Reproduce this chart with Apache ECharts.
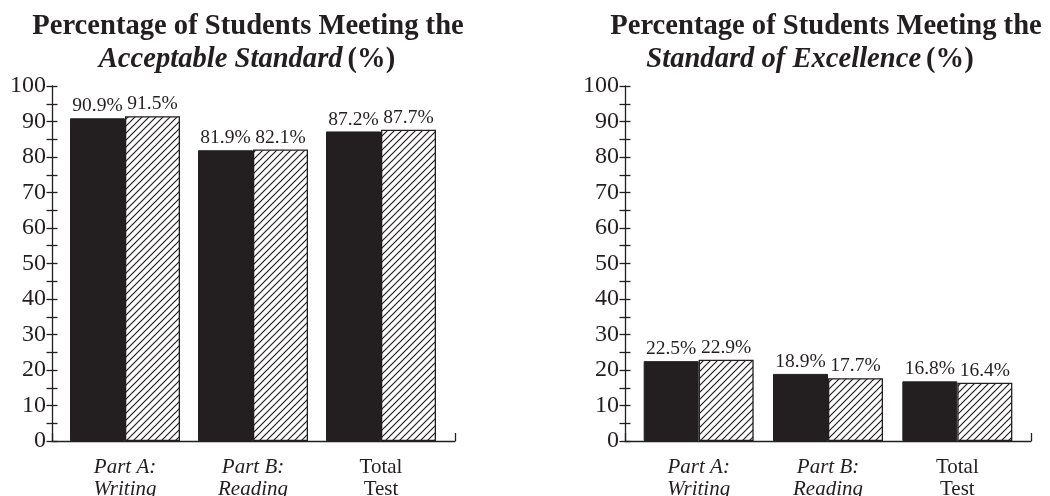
<!DOCTYPE html>
<html>
<head>
<meta charset="utf-8">
<script src="https://cdn.jsdelivr.net/npm/echarts@6/dist/echarts.min.js"></script>
<style>
  html, body { margin: 0; padding: 0; background: #ffffff; }
  #chart { width: 1050px; height: 496px; }
</style>
</head>
<body>
<div id="chart"></div>
<script>
// Categories shown under each panel
const categories = ['Part A:\nWriting', 'Part B:\nReading', 'Total\nTest'];
const italicCategories = [true, true, false];

// Acceptable Standard (%) — solid and hatched series
const acceptableSolid = [90.9, 81.9, 87.2];
const acceptableHatched = [91.5, 82.1, 87.7];

// Standard of Excellence (%) — solid and hatched series
const excellenceSolid = [22.5, 18.9, 16.8];
const excellenceHatched = [22.9, 17.7, 16.4];

// Value axis ticks
const yMin = 0;
const yMax = 100;
const yLabelStep = 10;
const yTickStep = 5;

const INK = '#231f20';
const SERIF = '"Liberation Serif", "Times New Roman", serif';

// Diagonal hatch tile
function makeHatch() {
  const s = 7;
  const c = document.createElement('canvas');
  c.width = s; c.height = s;
  const g = c.getContext('2d');
  g.fillStyle = '#ffffff';
  g.fillRect(0, 0, s, s);
  g.strokeStyle = INK;
  g.lineWidth = 1.2;
  g.beginPath();
  g.moveTo(-1, s + 1); g.lineTo(s + 1, -1);
  g.moveTo(-1, 1); g.lineTo(1, -1);
  g.moveTo(s - 1, s + 1); g.lineTo(s + 1, s - 1);
  g.stroke();
  return c;
}
const hatch = makeHatch();

// Panel geometry
const gridTop = 86;
const gridBottom = 55;
const panels = [
  { axisLeft: 52, axisWidth: 403, bandLeft: 61, bandWidth: 384, solid: acceptableSolid, hatched: acceptableHatched },
  { axisLeft: 625, axisWidth: 406, bandLeft: 634, bandWidth: 388, solid: excellenceSolid, hatched: excellenceHatched }
];

const grid = [], xAxis = [], yAxis = [], series = [];

panels.forEach((p, i) => {
  const frameGrid = grid.length;
  grid.push({ left: p.axisLeft, width: p.axisWidth, top: gridTop, bottom: gridBottom,
    containLabel: false, outerBoundsMode: 'none' });
  const barGrid = grid.length;
  grid.push({ left: p.bandLeft, width: p.bandWidth, top: gridTop, bottom: gridBottom,
    containLabel: false, outerBoundsMode: 'none' });

  // Baseline with a small end tick
  xAxis.push({
    type: 'value', gridIndex: frameGrid, min: 0, max: 1, interval: 1,
    axisLine: { show: true, lineStyle: { color: INK, width: 1.3 } },
    axisTick: { show: true, inside: true, length: 8, lineStyle: { color: INK, width: 1.3 } },
    axisLabel: { show: false }, splitLine: { show: false }
  });
  // Category axis for the bars
  xAxis.push({
    type: 'category', gridIndex: barGrid, data: categories,
    axisLine: { show: false }, axisTick: { show: false },
    axisLabel: {
      margin: 15,
      formatter: (v, idx) => {
        const lines = v.split('\n');
        const st = italicCategories[idx] ? 'it' : 'rm';
        return lines.map(l => '{' + st + '|' + l + '}').join('\n');
      },
      rich: {
        it: { fontFamily: SERIF, fontSize: 21, fontStyle: 'italic', color: INK, lineHeight: 22 },
        rm: { fontFamily: SERIF, fontSize: 21, color: INK, lineHeight: 22 }
      }
    }
  });

  // Labelled axis with ticks to the left
  yAxis.push({
    type: 'value', gridIndex: frameGrid, min: yMin, max: yMax, interval: yTickStep,
    axisLine: { show: true, lineStyle: { color: INK, width: 1.3 } },
    axisTick: { show: true, inside: false, length: 5.5, lineStyle: { color: INK, width: 1.3 } },
    axisLabel: {
      margin: 6, color: INK, fontFamily: SERIF, fontSize: 24,
      formatter: v => (v % yLabelStep === 0 ? String(v) : '')
    },
    splitLine: { show: false }
  });
  // Companion ticks to the right of the axis line
  yAxis.push({
    type: 'value', gridIndex: frameGrid, min: yMin, max: yMax, interval: yTickStep, position: 'left',
    axisLine: { show: false },
    axisTick: { show: true, inside: true, length: 5.5, lineStyle: { color: INK, width: 1.3 } },
    axisLabel: { show: false }, splitLine: { show: false }
  });
  // Scale for the bars
  const barY = yAxis.length;
  yAxis.push({
    type: 'value', gridIndex: barGrid, min: yMin, max: yMax, show: false
  });

  const barX = xAxis.length - 1;
  const label = {
    show: true, position: 'top', distance: 2, color: INK,
    fontFamily: SERIF, fontSize: 19.5,
    formatter: d => d.value.toFixed(1) + '%'
  };
  series.push({
    type: 'bar', xAxisIndex: barX, yAxisIndex: barY, data: p.solid,
    barWidth: 55, barGap: '0%',
    itemStyle: { color: INK, borderColor: INK, borderWidth: 1 },
    label: label, silent: true
  });
  series.push({
    type: 'bar', xAxisIndex: barX, yAxisIndex: barY, data: p.hatched,
    barWidth: 55, barGap: '0%',
    itemStyle: { color: { image: hatch, repeat: 'repeat' }, borderColor: INK, borderWidth: 1.3 },
    label: label, silent: true
  });
});

const titleRich = {
  b: { fontFamily: SERIF, fontSize: 28.6, fontWeight: 'bold', color: INK },
  bi: { fontFamily: SERIF, fontSize: 28.6, fontWeight: 'bold', fontStyle: 'italic', color: INK }
};
function titleLine(text, x, top) {
  return { text: text, left: x, top: top, textAlign: 'center', padding: 0,
    textStyle: { rich: titleRich, lineHeight: 32 } };
}

const chart = echarts.init(document.getElementById('chart'), null, { renderer: 'canvas' });
chart.setOption({
  backgroundColor: '#ffffff',
  animation: false,
  title: [
    titleLine('{b|Percentage of Students Meeting the}', 248, 11),
    titleLine('{bi|Acceptable Standard} {b|(%)}', 247, 44),
    titleLine('{b|Percentage of Students Meeting the}', 826, 11),
    titleLine('{bi|Standard of Excellence} {b|(%)}', 810, 44)
  ],
  grid: grid,
  xAxis: xAxis,
  yAxis: yAxis,
  series: series
});
</script>
</body>
</html>
